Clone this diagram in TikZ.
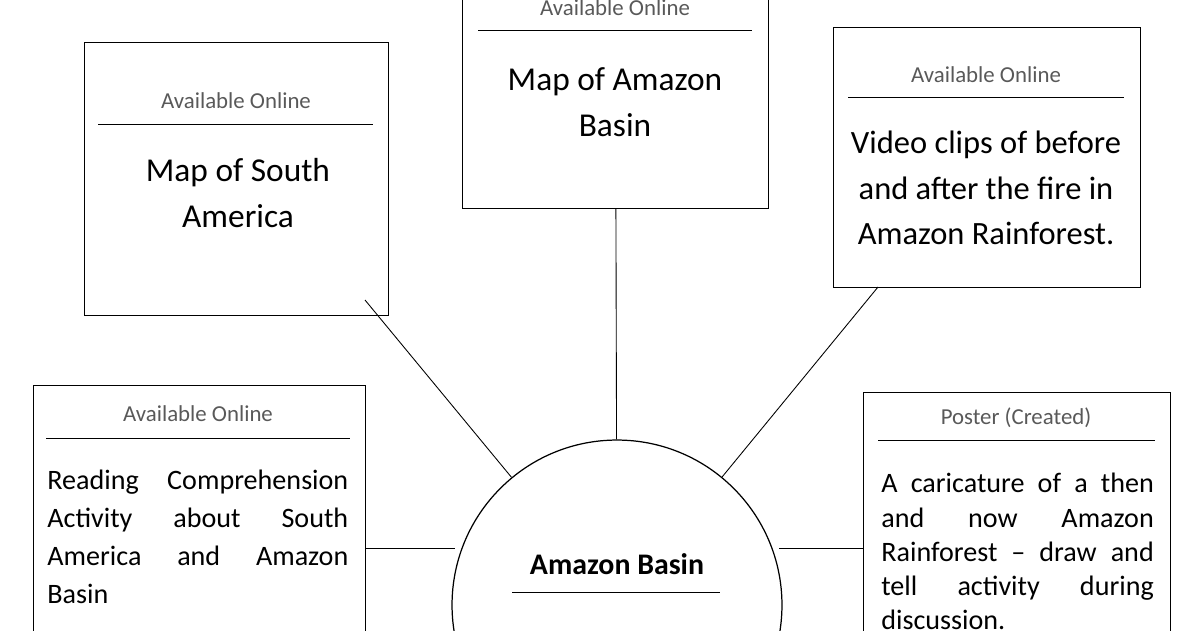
\documentclass[tikz,border=0pt]{standalone}
\usepackage{fontspec}
\setmainfont{Carlito}
\begin{document}
\begin{tikzpicture}[x=0.02cm, y=-0.02cm,
    box/.style={rectangle, draw, line width=0.7pt, anchor=north west},
    head/.style={font=\fontsize{13}{15}\selectfont\color{black!65}},
    main/.style={font=\fontsize{19}{26}\selectfont, align=center},
    body/.style={font=\fontsize{16}{21.5}\selectfont, align=justify, text width=6.02cm, inner sep=0pt},
    link/.style={line width=0.5pt}
]
    \clip (0,0) rectangle (1200,630);
    \useasboundingbox (0,0) rectangle (1200,630);
    % boxes
    \node[box, minimum width=6.12cm, minimum height=4.6cm] (mid) at (462,-22) {};
    \node[box, minimum width=6.08cm, minimum height=5.46cm] (left) at (84,42) {};
    \node[box, minimum width=6.14cm, minimum height=5.2cm] (right) at (833,27) {};
    \node[box, minimum width=6.64cm, minimum height=6cm] (lower left) at (33,385) {};
    \node[box, minimum width=6.14cm, minimum height=6cm] (lower right) at (863,392) {};
    \node[circle, draw, line width=0.7pt, minimum size=6.6cm] (basin) at (617,605) {};

    % headers
    \node[head] (mid head) at (615,8) {Available Online};
    \draw (478,30) -- (752,30);
    \node[head] (left head) at (236,101) {Available Online};
    \draw (98,124) -- (373,124);
    \node[head] (right head) at (986,75) {Available Online};
    \draw (848,97) -- (1124,97);
    \node[head] (lower left head) at (198,414) {Available Online};
    \draw (46,438) -- (350,438);
    \node[head] (lower right head) at (1016,418) {Poster (Created)};
    \draw (878,440) -- (1155,440);

    % contents
    \node[main] (mid text) at (615,102) {Map of Amazon\\Basin};
    \node[main] (left text) at (238,193) {Map of South\\America};
    \node[main, font=\fontsize{18.5}{26}\selectfont] (right text) at (986,188)
        {Video clips of before\\and after the fire in\\Amazon Rainforest.};
    \node[body, anchor=north west] (lower left text) at (47,470)
        {Reading Comprehension\linebreak Activity about South\linebreak America and Amazon\linebreak Basin};
    \node[body, anchor=north west, text width=5.45cm, font=\fontsize{16}{19.5}\selectfont] (lower right text) at (881,473)
        {A caricature of a then\linebreak and now Amazon\linebreak Rainforest -- draw and\linebreak tell activity during\linebreak discussion.};
    \node[font=\bfseries\fontsize{17}{19}\selectfont] (basin text) at (617,564) {Amazon Basin};
    \draw (512,592) -- (720,592);

    % links
    \draw[link] (mid) -- (basin);
    \draw[link] (365,300) -- (basin);
    \draw[link] (878,287) -- (basin);
    \draw[link] (lower left.east |- 0,548) -- (455,548);
    \draw[link] (779,548) -- (lower right.west |- 0,548);
\end{tikzpicture}
\end{document}
